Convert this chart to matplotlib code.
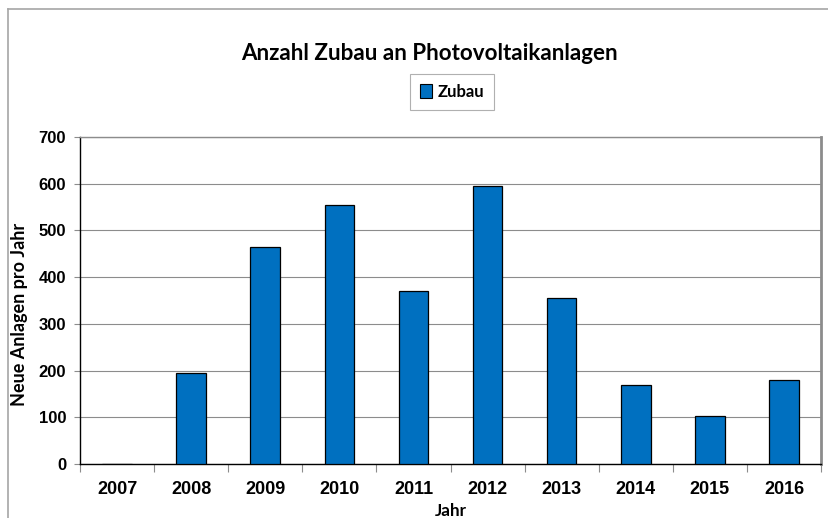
"""Bar chart: Anzahl Zubau an Photovoltaikanlagen."""

import matplotlib

matplotlib.use("Agg")
import matplotlib.pyplot as plt  # noqa: E402
import numpy as np  # noqa: E402
from matplotlib.patches import Patch  # noqa: E402

years = ["2007", "2008", "2009", "2010", "2011", "2012", "2013", "2014", "2015", "2016"]
zubau = [0, 195, 465, 555, 370, 595, 355, 170, 102, 180]
y_ticks = [0, 100, 200, 300, 400, 500, 600, 700]

BAR = "#0070C0"
GRID = "#8c8c8c"
TICK_FONT = "Liberation Sans"
TEXT_FONT = "Lato"


def fit_length(txt, target_px, renderer, vertical=False):
    """Scale a text's font size so its long side spans target_px."""
    bb = txt.get_window_extent(renderer)
    span = bb.height if vertical else bb.width
    txt.set_fontsize(txt.get_fontsize() * target_px / span)


fig = plt.figure(figsize=(8.29, 5.18), dpi=100)
ax = fig.add_axes((80 / 829, 54 / 518, 741 / 829, 327 / 518))

x = np.arange(len(years))
ax.bar(x, zubau, width=0.4, color=BAR, edgecolor="black", linewidth=0.9, zorder=3)

ax.set_xlim(-0.5, len(years) - 0.5)
ax.set_ylim(0, 700)
ax.set_yticks(y_ticks)
ax.yaxis.grid(True, color=GRID, linewidth=0.8, zorder=0)

# category ticks sit between the bars, labels centred under them
ax.set_xticks(np.arange(len(years) + 1) - 0.5)
ax.set_xticklabels([])
ax.set_xticks(x, minor=True)
ax.set_xticklabels(years, minor=True, fontsize=13, fontweight="bold", family=TICK_FONT)
ax.tick_params(axis="x", which="major", length=6, color=GRID, width=0.8)
ax.tick_params(axis="x", which="minor", length=0, pad=12)
ax.tick_params(axis="y", length=4, color=GRID, width=0.8, pad=6)
for lab in ax.get_yticklabels():
    lab.set_fontsize(12)
    lab.set_fontweight("bold")
    lab.set_family(TICK_FONT)

for side in ("top", "right"):
    ax.spines[side].set_color(GRID)
    ax.spines[side].set_linewidth(1.0)
ax.spines["right"].set_linewidth(2.0)
ax.spines["left"].set_color("black")
ax.spines["bottom"].set_color("black")
ax.spines["left"].set_linewidth(1.0)
ax.spines["bottom"].set_linewidth(1.0)

ax.set_ylabel("Neue Anlagen pro Jahr", fontsize=13, fontweight="bold", family=TEXT_FONT)
ax.yaxis.set_label_coords(-0.070, 0.456)
ax.set_xlabel("Jahr", fontsize=12, fontweight="bold", family=TEXT_FONT)
ax.xaxis.label.set_va("baseline")
ax.xaxis.set_label_coords(0.5, -0.159)

title = fig.text(429 / 829, 1 - 53 / 518, "Anzahl Zubau an Photovoltaikanlagen", ha="center",
                 va="center", fontsize=16, fontweight="bold", family=TEXT_FONT)

leg = fig.legend(
    handles=[Patch(facecolor=BAR, edgecolor="black", linewidth=0.8, label="Zubau")],
    loc="center",
    bbox_to_anchor=(452 / 829, 1 - 92 / 518),
    prop={"family": TEXT_FONT, "weight": "bold", "size": 12.3},
    handlelength=0.7,
    handleheight=0.9,
    handletextpad=0.3,
    borderpad=0.6,
    borderaxespad=0,
    fancybox=False,
    framealpha=1,
)
leg.get_frame().set_edgecolor("#b0b0b0")
leg.get_frame().set_linewidth(0.8)

# match the text extents measured on the reference
fig.canvas.draw()
r = fig.canvas.get_renderer()
fit_length(title, 378, r)
fit_length(ax.xaxis.label, 32, r)
fit_length(leg.get_texts()[0], 47, r)

# outer chart frame, cut off at the right and bottom like the source
fig.add_artist(plt.Line2D([8 / 829, 8 / 829], [0, 1 - 9 / 518], transform=fig.transFigure,
                          color="#a6a6a6", linewidth=1.2))
fig.add_artist(plt.Line2D([8 / 829, 1], [1 - 9 / 518, 1 - 9 / 518], transform=fig.transFigure,
                          color="#a6a6a6", linewidth=1.2))

fig.savefig("out.png", dpi=100)
